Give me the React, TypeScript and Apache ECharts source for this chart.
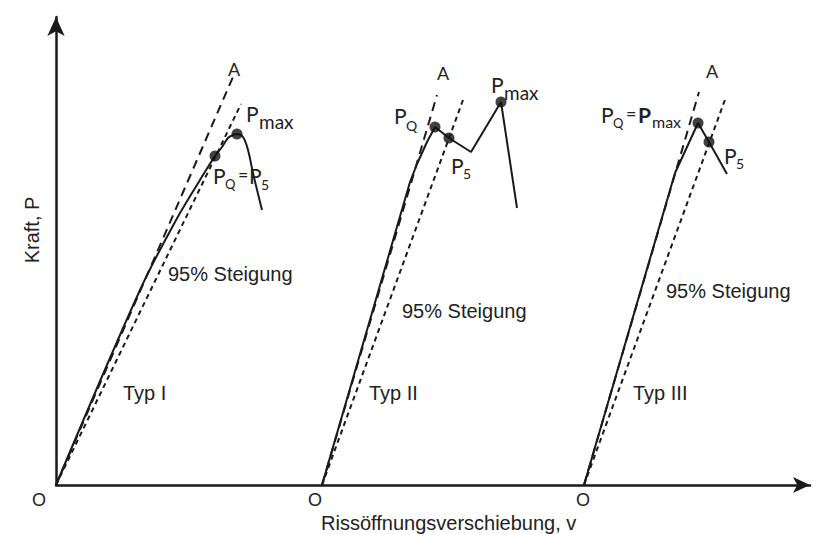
import React, { useEffect, useRef } from "react";
import * as echarts from "echarts";

// Load–displacement curves, [crack opening v, force P] in chart units
const typeICurve = [
  [0, 0], [0.84, 1.95], [1.19, 2.63], [1.44, 3.05], [1.59, 3.29], [1.66, 3.38],
  [1.72, 3.47], [1.77, 3.5], [1.81, 3.51], [1.87, 3.48], [1.92, 3.35], [1.97, 3.12], [2.06, 2.75],
];
const typeIICurve = [
  [2.66, 0], [3.54, 3.03], [3.61, 3.21], [3.71, 3.43], [3.79, 3.58], [3.93, 3.47],
  [4.15, 3.33], [4.45, 3.83], [4.61, 2.77],
];
const typeIIICurve = [
  [5.28, 0], [6.19, 3.12], [6.31, 3.38], [6.42, 3.62], [6.53, 3.43], [6.71, 3.11],
];

// Initial tangent (to point A) and 95 % secant for each curve type
const tangentLines = [
  [[0, 0], [1.77, 4.08]],
  [[2.66, 0], [3.81, 3.9]],
  [[5.28, 0], [6.43, 3.93]],
];
const secantLines = [
  [[0, 0], [1.85, 3.81]],
  [[2.66, 0], [4.07, 3.85]],
  [[5.28, 0], [6.7, 3.88]],
];

// Characteristic loads P_Q, P_5, P_max
const markedPoints = [
  [1.59, 3.29], [1.81, 3.51],
  [3.79, 3.58], [3.93, 3.47], [4.45, 3.83],
  [6.42, 3.62], [6.53, 3.43],
];

const X_MAX = 7.54;
const Y_MAX = 4.68;

const INK = "#1a1a1a";
const TEXT = "#222";
const SANS = "'Liberation Sans', Arial, sans-serif";
const SYM = "Lato, 'Liberation Sans', sans-serif";

type TextOpts = {
  size?: number;
  family?: string;
  align?: "left" | "center" | "right";
  weight?: string;
  rotation?: number;
};

function txt(text: string, x: number, y: number, o: TextOpts = {}) {
  return {
    type: "text",
    x,
    y,
    rotation: o.rotation ?? 0,
    silent: true,
    style: {
      text,
      fill: TEXT,
      fontSize: o.size ?? 20,
      fontFamily: o.family ?? SANS,
      fontWeight: o.weight ?? "normal",
      textAlign: o.align ?? "left",
      textVerticalAlign: "middle",
    },
  };
}

const sym = (text: string, x: number, y: number, size: number, weight = "normal") =>
  txt(text, x, y, { size, family: SYM, weight });

const annotations = [
  // axis titles and origins
  txt("Kraft, P", 32, 230, { rotation: Math.PI / 2, align: "center" }),
  txt("Rissöffnungsverschiebung, v", 321, 523),
  txt("O", 39, 500, { size: 18, align: "center" }),
  txt("O", 315, 500, { size: 18, align: "center" }),
  txt("O", 583, 500, { size: 18, align: "center" }),

  // Typ I
  txt("A", 234, 69, { size: 18, family: SYM, align: "center" }),
  sym("P", 246, 113, 21),
  sym("max", 259, 121, 19),
  sym("P", 213, 175, 21),
  sym("Q", 225, 184, 13),
  sym("=", 238, 174, 18),
  sym("P", 249, 175, 21),
  sym("5", 261, 184, 14),
  txt("95% Steigung", 168, 274),
  txt("Typ I", 123, 393),

  // Typ II
  txt("A", 443, 73, { size: 18, family: SYM, align: "center" }),
  sym("P", 394, 115, 21),
  sym("Q", 406, 125, 14),
  sym("P", 451, 165, 21),
  sym("5", 463, 173, 14),
  sym("P", 491, 84, 21),
  sym("max", 504, 92, 19),
  txt("95% Steigung", 402, 311),
  txt("Typ II", 369, 393),

  // Typ III
  txt("A", 712, 71, { size: 18, family: SYM, align: "center" }),
  sym("P", 601, 114, 21),
  sym("Q", 613, 123, 13),
  sym("=", 626, 113, 18),
  sym("P", 638, 114, 21, "bold"),
  sym("max", 652, 121, 16),
  sym("P", 724, 155, 21),
  sym("5", 736, 163, 14),
  txt("95% Steigung", 666, 291),
  txt("Typ III", 633, 393),
];

function curveSeries(data: number[][], smooth: number | boolean) {
  return {
    type: "line",
    data,
    smooth,
    showSymbol: false,
    silent: true,
    z: 3,
    lineStyle: { color: INK, width: 2 },
  };
}

function guideSeries(data: number[][], dash: number[]) {
  return {
    type: "line",
    data,
    showSymbol: false,
    silent: true,
    z: 2,
    lineStyle: { color: INK, width: 2, type: dash },
  };
}

const axisLine = (size: number[]) => ({
  show: true,
  symbol: ["none", "arrow"],
  symbolSize: size,
  lineStyle: { color: INK, width: 2.5 },
});

const option = {
  animation: false,
  backgroundColor: "#ffffff",
  grid: { left: 56, top: 17, right: 9, bottom: 50 },
  xAxis: {
    type: "value",
    min: 0,
    max: X_MAX,
    axisLine: axisLine([12, 17]),
    axisTick: { show: false },
    axisLabel: { show: false },
    splitLine: { show: false },
  },
  yAxis: {
    type: "value",
    min: 0,
    max: Y_MAX,
    axisLine: axisLine([13, 19]),
    axisTick: { show: false },
    axisLabel: { show: false },
    splitLine: { show: false },
  },
  series: [
    curveSeries(typeICurve, 0.35),
    curveSeries(typeIICurve, false),
    curveSeries(typeIIICurve, false),
    ...tangentLines.map((d) => guideSeries(d, [9, 6])),
    ...secantLines.map((d) => guideSeries(d, [5, 4])),
    {
      type: "scatter",
      data: markedPoints,
      symbol: "circle",
      symbolSize: 11,
      silent: true,
      z: 5,
      itemStyle: { color: "#111" },
    },
  ],
  graphic: annotations,
};

export default function App() {
  const ref = useRef<HTMLDivElement>(null);
  useEffect(() => {
    if (!ref.current) return;
    const chart = echarts.init(ref.current, null, { renderer: "svg" });
    chart.setOption(option as any);
    return () => chart.dispose();
  }, []);
  return (
    <div
      ref={ref}
      style={{ position: "absolute", left: 0, top: 0, width: 819, height: 535, background: "#fff" }}
    />
  );
}
